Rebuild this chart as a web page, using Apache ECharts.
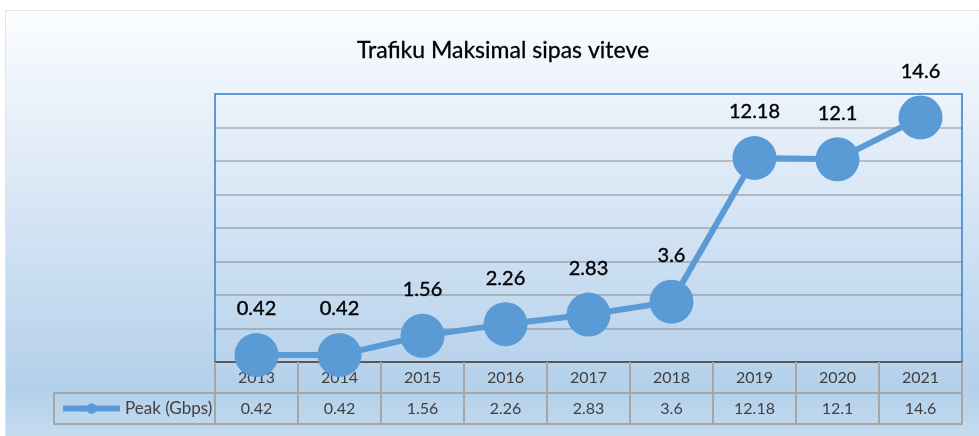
<!DOCTYPE html>
<html>
<head>
<meta charset="utf-8">
<script src="https://cdn.jsdelivr.net/npm/echarts@6/dist/echarts.min.js"></script>
<style>
  html, body { margin: 0; padding: 0; background: #ffffff; }
  #bg { position: absolute; left: 5px; top: 10px; width: 980px; height: 430px;
        border-left: 1px solid #E4E4E4; border-top: 1px solid #E4E4E4;
        background: linear-gradient(to bottom, #FBFDFF 0%, #E3EDF8 30%, #C9DDF1 62%, #B3D0EA 88%, #C6DCF0 100%); }
  #chart { position: absolute; left: 0; top: 0; width: 979px; height: 436px; }
</style>
</head>
<body>
<div id="bg"></div>
<div id="chart"></div>
<script>
const years = ['2013', '2014', '2015', '2016', '2017', '2018', '2019', '2020', '2021'];
const peak = [0.42, 0.42, 1.56, 2.26, 2.83, 3.6, 12.18, 12.1, 14.6];
const seriesName = 'Peak (Gbps)';
const titleText = 'Trafiku Maksimal sipas viteve';

const FONT = 'Lato, "Open Sans", sans-serif';
const BLUE = '#5B9BD5';
const TABLE = '#A6A6A6';

const chart = echarts.init(document.getElementById('chart'), null, { renderer: 'canvas' });
chart.setOption({
  backgroundColor: 'transparent',
  animation: false,
  title: {
    text: titleText,
    left: 498, top: 34, textAlign: 'center',
    textStyle: { fontFamily: FONT, fontSize: 23, fontWeight: 'normal', color: '#000',
                 textBorderColor: '#000', textBorderWidth: 0.3 }
  },
  legend: {
    left: 60, top: 400, padding: 0,
    itemWidth: 57, itemHeight: 13,
    data: [seriesName],
    lineStyle: { width: 6 },
    textStyle: { fontFamily: FONT, fontSize: 17, color: '#404040' }
  },
  grid: [
    { left: 215, right: 17, top: 94, height: 268, show: true, borderColor: BLUE, borderWidth: 2, backgroundColor: 'transparent' },
    { left: 54, right: 17, top: 393, height: 31, show: true, borderColor: TABLE, borderWidth: 2, backgroundColor: 'transparent' },
    { left: 215, right: 17, top: 393, height: 31, show: false }
  ],
  xAxis: [
    {
      gridIndex: 0, type: 'category', data: years, boundaryGap: true,
      axisLine: { show: true, lineStyle: { color: '#595959', width: 2 } },
      axisTick: { show: true, interval: 0, length: 62, lineStyle: { color: TABLE, width: 2 } },
      axisLabel: { interval: 0, margin: 8, fontFamily: FONT, fontSize: 16, color: '#404040' },
      splitLine: { show: false }
    },
    { gridIndex: 1, type: 'value', show: false },
    {
      gridIndex: 2, type: 'category', data: peak.map(String), position: 'top', boundaryGap: true,
      axisLine: { show: false }, axisTick: { show: false },
      axisLabel: { inside: true, interval: 0, margin: 8, fontFamily: FONT, fontSize: 16, color: '#404040' }
    }
  ],
  yAxis: [
    {
      gridIndex: 0, type: 'value', min: 0, max: 16, interval: 2,
      axisLine: { show: false }, axisTick: { show: false }, axisLabel: { show: false },
      splitLine: { show: true, showMinLine: false, showMaxLine: false, lineStyle: { color: 'rgba(89,89,89,0.32)', width: 2 } }
    },
    { gridIndex: 1, type: 'value', show: false },
    { gridIndex: 2, type: 'value', show: false }
  ],
  series: [{
    name: seriesName,
    type: 'line',
    xAxisIndex: 0, yAxisIndex: 0,
    data: peak,
    clip: false,
    z: 5,
    symbol: 'circle',
    symbolSize: 44,
    lineStyle: { color: BLUE, width: 6 },
    itemStyle: { color: BLUE },
    label: {
      show: true, position: 'top', distance: 14,
      fontFamily: FONT, fontSize: 20, color: '#000',
      textBorderColor: '#000', textBorderWidth: 0.4
    }
  }]
});
</script>
</body>
</html>
